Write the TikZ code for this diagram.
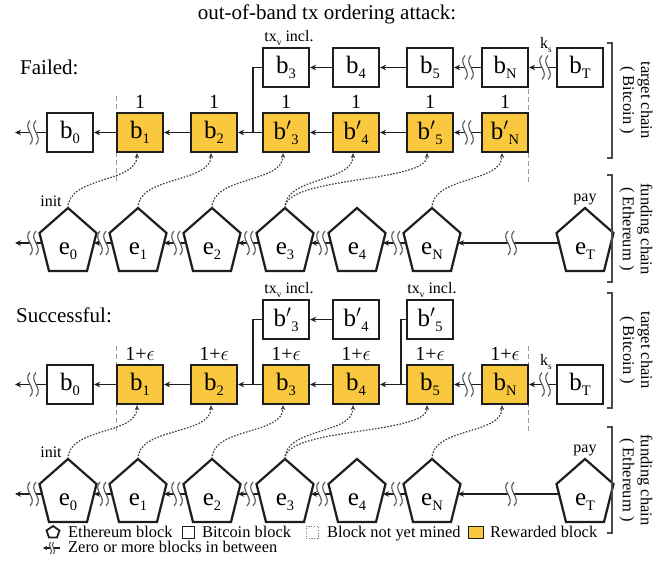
\documentclass[tikz,border=0pt]{standalone}
\usepackage{fontspec}
\setmainfont{Liberation Serif}
\usetikzlibrary{arrows.meta}
\definecolor{gold}{RGB}{250,200,62}
\definecolor{ink}{RGB}{30,30,30}
\newcommand{\sbs}[1]{\raisebox{-0.2em}{\scalebox{0.58}{#1}}}
\newcommand{\fs}[1]{\fontsize{#1}{#1}\selectfont}
\newcommand{\epsl}{\ensuremath{\epsilon}}
\newcommand{\bp}{b\ensuremath{'}}
% pentagon: name, x, y of the chain line, label
\newcommand{\pentnode}[4]{%
  \draw[pentline] (#2,#3-35) -- (#2+28.5,#3-10) -- (#2+19,#3+28) -- (#2-19,#3+28) -- (#2-28.5,#3-10) -- cycle;
  \node[font=\fs{25}, inner sep=0pt, anchor=base] (#1) at (#2,#3+12) {#4};
  \coordinate (#1-t) at (#2,#3-35);
  \coordinate (#1-w) at (#2-26,#3);
  \coordinate (#1-e) at (#2+26,#3);
}
\tikzset{
  blk/.style={draw=ink, line width=2.2pt, fill=white, minimum width=46pt, minimum height=39pt, inner sep=0pt, font=\fs{25}},
  rew/.style={blk, fill=gold},
  pentline/.style={draw=ink, line width=2.2pt, fill=white, line join=miter},
  lnk/.style={draw=ink, line width=1.6pt, -{Stealth[length=6pt,width=5.5pt]}},
  seg/.style={draw=ink, line width=1.6pt},
  mined/.style={draw=ink!85, line width=1.2pt, dash pattern=on 1.6pt off 1.5pt, -{Stealth[length=5pt,width=4.5pt]}},
  guide/.style={draw=gray!80, line width=0.8pt, dash pattern=on 5pt off 3pt},
  brack/.style={draw=ink!80, line width=1.3pt},
  rwd/.style={font=\fs{20}, inner sep=0pt},
  small/.style={font=\fs{16}, inner sep=0pt},
  side/.style={rotate=-90, align=center, font=\fontsize{16.5}{18}\selectfont, inner sep=0pt},
  legt/.style={anchor=base west, font=\fs{16.4}, inner sep=0pt},
  wv/.pic={
    \fill[white] (-5,-12) .. controls (-13,-4) and (3,4) .. (-5,12) -- (1,12) .. controls (9,4) and (-7,-4) .. (1,-12) -- cycle;
    \draw[ink!75, line width=1.1pt] (-5,-12) .. controls (-13,-4) and (3,4) .. (-5,12);
    \draw[ink!75, line width=1.1pt] (1,-12) .. controls (-7,-4) and (9,4) .. (1,12);
  },
}
\begin{document}
\begin{tikzpicture}[x=1pt,y=-1pt]
\useasboundingbox (0,0) rectangle (654,561);
\node[font=\fs{21}, inner sep=0pt] (title) at (327,14) {out-of-band tx ordering attack:};

% ================= FAILED =================
\node[font=\fs{21}, anchor=west, inner sep=0pt] (failed) at (20,67) {Failed:};
\draw[guide] (116,96) -- (116,181);
\draw[guide] (528,89) -- (528,183);
% top row
\node[blk] (f3) at (286,67.5) {b\sbs{3}};
\node[blk] (f4) at (356,67.5) {b\sbs{4}};
\node[blk] (f5) at (430,67.5) {b\sbs{5}};
\node[blk] (fN) at (505,67.5) {b\sbs{N}};
\node[blk] (fT) at (580,67.5) {b\sbs{T}};
\node[small] (ftx) at (289,38) {tx\sbs{v} incl.};
\node[small] (fks) at (546,45) {k\sbs{s}};
% lower row
\node[blk] (fb0) at (70,132.5) {b\sbs{0}};
\node[rew] (fb1) at (140,132.5) {b\sbs{1}};
\node[rew] (fb2) at (214,132.5) {b\sbs{2}};
\node[rew] (fp3) at (286,132.5) {\bp\sbs{3}};
\node[rew] (fp4) at (356,132.5) {\bp\sbs{4}};
\node[rew] (fp5) at (430,132.5) {\bp\sbs{5}};
\node[rew] (fpN) at (505,132.5) {\bp\sbs{N}};
\node[rwd] (fr1) at (140,102) {1};
\node[rwd] (fr2) at (214,102) {1};
\node[rwd] (fr3) at (286,102) {1};
\node[rwd] (fr4) at (356,102) {1};
\node[rwd] (fr5) at (430,102) {1};
\node[rwd] (fr6) at (505,102) {1};
\coordinate (fl) at (15,132.5);
\coordinate (fj) at (253,132.5);
\draw[lnk] (f4.west) -- (f3.east);
\draw[lnk] (f5.west) -- (f4.east);
\draw[lnk] (fN.west) -- (f5.east);
\draw[lnk] (fT.west) -- (fN.east);
\pic at (470,67.5) {wv};
\pic at (547,67.5) {wv};
\draw[seg] (f3.west) -| (fj);
\draw[lnk] (fb0.west) -- (fl);
\draw[lnk] (fb1.west) -- (fb0.east);
\draw[lnk] (fb2.west) -- (fb1.east);
\draw[lnk] (fp3.west) -- (fb2.east);
\draw[lnk] (fp4.west) -- (fp3.east);
\draw[lnk] (fp5.west) -- (fp4.east);
\draw[lnk] (fpN.west) -- (fp5.east);
\pic at (35,132.5) {wv};
\pic at (470,132.5) {wv};
% pentagons
\pentnode{fe0}{68}{243}{e\sbs{0}}
\pentnode{fe1}{138}{243}{e\sbs{1}}
\pentnode{fe2}{212}{243}{e\sbs{2}}
\pentnode{fe3}{285}{243}{e\sbs{3}}
\pentnode{fe4}{357}{243}{e\sbs{4}}
\pentnode{feN}{432}{243}{e\sbs{N}}
\pentnode{feT}{585}{243}{e\sbs{T}}
\node[small] (finit) at (51,201) {init};
\node[small] (fpay) at (585,199) {pay};
\coordinate (fel) at (15,243);
\draw[lnk] (fe0-w) -- (fel);
\draw[lnk] (fe1-w) -- (fe0-e);
\draw[lnk] (fe2-w) -- (fe1-e);
\draw[lnk] (fe3-w) -- (fe2-e);
\draw[lnk] (fe4-w) -- (fe3-e);
\draw[lnk] (feN-w) -- (fe4-e);
\draw[lnk] (feT-w) -- (feN-e);
\pic at (35,243) {wv};
\pic at (105,243) {wv};
\pic at (179,243) {wv};
\pic at (252,243) {wv};
\pic at (324,243) {wv};
\pic at (399,243) {wv};
\pic at (513,243) {wv};
\draw[mined] (fe0-t) .. controls +(0,-32) and +(0,30) .. ([xshift=-3pt]fb1.south);
\draw[mined] (fe1-t) .. controls +(0,-32) and +(0,30) .. ([xshift=-3pt]fb2.south);
\draw[mined] (fe2-t) .. controls +(0,-32) and +(0,30) .. ([xshift=-3pt]fp3.south);
\draw[mined] (fe3-t) .. controls +(0,-32) and +(0,30) .. ([xshift=-3pt]fp4.south);
\draw[mined] (fe3-t) .. controls +(0,-32) and +(0,30) .. ([xshift=-3pt]fp5.south);
\draw[mined] (feN-t) .. controls +(0,-32) and +(0,30) .. ([xshift=-3pt]fpN.south);
\draw[brack] (607,43) -- (612,43) -- (612,158) -- (607,158);
\draw[brack] (607,175) -- (612,175) -- (612,282) -- (607,282);
\node[side] (ftc) at (636,100) {target chain\\( Bitcoin )};
\node[side] (ffc) at (636,229) {funding chain\\( Ethereum )};

% ================= SUCCESSFUL =================
\node[font=\fs{21}, anchor=west, inner sep=0pt] (succ) at (16,315) {Successful:};
\draw[guide] (116,346) -- (116,433);
\draw[guide] (528,346) -- (528,433);
\node[blk] (s3) at (286,319.5) {\bp\sbs{3}};
\node[blk] (s4) at (356,319.5) {\bp\sbs{4}};
\node[blk] (s5) at (430,319.5) {\bp\sbs{5}};
\node[small] (stx1) at (289,290) {tx\sbs{v} incl.};
\node[small] (stx2) at (432,290) {tx\sbs{v} incl.};
\node[blk] (sb0) at (70,384.5) {b\sbs{0}};
\node[rew] (sb1) at (140,384.5) {b\sbs{1}};
\node[rew] (sb2) at (214,384.5) {b\sbs{2}};
\node[rew] (sb3) at (286,384.5) {b\sbs{3}};
\node[rew] (sb4) at (356,384.5) {b\sbs{4}};
\node[rew] (sb5) at (430,384.5) {b\sbs{5}};
\node[rew] (sbN) at (505,384.5) {b\sbs{N}};
\node[blk] (sbT) at (580,384.5) {b\sbs{T}};
\node[small] (sks) at (546,362) {k\sbs{s}};
\node[rwd] (sr1) at (140,354) {1+\epsl};
\node[rwd] (sr2) at (214,354) {1+\epsl};
\node[rwd] (sr3) at (286,354) {1+\epsl};
\node[rwd] (sr4) at (356,354) {1+\epsl};
\node[rwd] (sr5) at (430,354) {1+\epsl};
\node[rwd] (sr6) at (505,354) {1+\epsl};
\coordinate (sl) at (15,384.5);
\coordinate (sj1) at (253,384.5);
\coordinate (sj2) at (401,384.5);
\draw[lnk] (s4.west) -- (s3.east);
\draw[seg] (s3.west) -| (sj1);
\draw[seg] (s5.west) -| (sj2);
\draw[lnk] (sb0.west) -- (sl);
\draw[lnk] (sb1.west) -- (sb0.east);
\draw[lnk] (sb2.west) -- (sb1.east);
\draw[lnk] (sb3.west) -- (sb2.east);
\draw[lnk] (sb4.west) -- (sb3.east);
\draw[lnk] (sb5.west) -- (sb4.east);
\draw[lnk] (sbN.west) -- (sb5.east);
\draw[lnk] (sbT.west) -- (sbN.east);
\pic at (35,384.5) {wv};
\pic at (470,384.5) {wv};
\pic at (547,384.5) {wv};
\pentnode{se0}{68}{494}{e\sbs{0}}
\pentnode{se1}{138}{494}{e\sbs{1}}
\pentnode{se2}{212}{494}{e\sbs{2}}
\pentnode{se3}{285}{494}{e\sbs{3}}
\pentnode{se4}{357}{494}{e\sbs{4}}
\pentnode{seN}{432}{494}{e\sbs{N}}
\pentnode{seT}{585}{494}{e\sbs{T}}
\node[small] (sinit) at (51,452) {init};
\node[small] (spay) at (585,450) {pay};
\coordinate (sel) at (15,494);
\draw[lnk] (se0-w) -- (sel);
\draw[lnk] (se1-w) -- (se0-e);
\draw[lnk] (se2-w) -- (se1-e);
\draw[lnk] (se3-w) -- (se2-e);
\draw[lnk] (se4-w) -- (se3-e);
\draw[lnk] (seN-w) -- (se4-e);
\draw[lnk] (seT-w) -- (seN-e);
\pic at (35,494) {wv};
\pic at (105,494) {wv};
\pic at (179,494) {wv};
\pic at (252,494) {wv};
\pic at (324,494) {wv};
\pic at (399,494) {wv};
\pic at (513,494) {wv};
\draw[mined] (se0-t) .. controls +(0,-32) and +(0,30) .. ([xshift=-3pt]sb1.south);
\draw[mined] (se1-t) .. controls +(0,-32) and +(0,30) .. ([xshift=-3pt]sb2.south);
\draw[mined] (se2-t) .. controls +(0,-32) and +(0,30) .. ([xshift=-3pt]sb3.south);
\draw[mined] (se3-t) .. controls +(0,-32) and +(0,30) .. ([xshift=-3pt]sb4.south);
\draw[mined] (se3-t) .. controls +(0,-32) and +(0,30) .. ([xshift=-3pt]sb5.south);
\draw[mined] (seN-t) .. controls +(0,-32) and +(0,30) .. ([xshift=-3pt]sbN.south);
\draw[brack] (607,293) -- (612,293) -- (612,408) -- (607,408);
\draw[brack] (607,427) -- (612,427) -- (612,533) -- (607,533);
\node[side] (stc) at (636,350) {target chain\\( Bitcoin )};
\node[side] (sfc) at (636,480) {funding chain\\( Ethereum )};

% ================= LEGEND =================
\draw[ink, line width=1.8pt, fill=white, line join=miter] (53,526) -- (59.5,530.5) -- (57,537.5) -- (49,537.5) -- (46.5,530.5) -- cycle;
\coordinate (lgE) at (53,532);
\node[legt] (lgEt) at (68,537) {Ethereum block};
\node[draw=ink, line width=0.9pt, minimum size=12pt, inner sep=0pt] (lgB) at (188,532) {};
\node[legt] (lgBt) at (202,537) {Bitcoin block};
\node[draw=gray, line width=0.9pt, dash pattern=on 1.2pt off 1.5pt, minimum size=12pt, inner sep=0pt] (lgD) at (312,532) {};
\node[legt] (lgDt) at (327,537) {Block not yet mined};
\node[draw=ink, line width=0.9pt, fill=gold, minimum width=15pt, minimum height=12pt, inner sep=0pt] (lgY) at (475.5,532) {};
\node[legt] (lgYt) at (490,537) {Rewarded block};
\coordinate (lgZa) at (60,548);
\coordinate (lgZb) at (43,548);
\draw[ink, line width=1.1pt, -{Stealth[length=4pt,width=4pt]}] (lgZa) -- (lgZb);
\pic[scale=0.5] at (53,548) {wv};
\node[legt] (lgZt) at (68,552.5) {Zero or more blocks in between};
\end{tikzpicture}
\end{document}
